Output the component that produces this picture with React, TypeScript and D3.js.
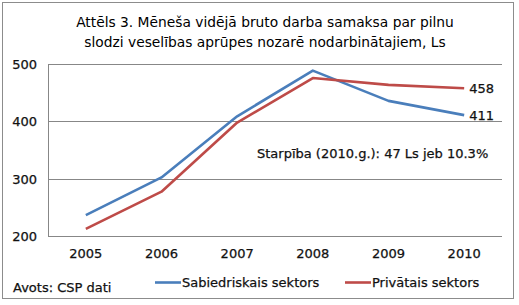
import * as d3 from 'd3'
import React, { useEffect, useRef } from 'react'

const years = ['2005', '2006', '2007', '2008', '2009', '2010']
const publicSector = [236, 302, 409, 489, 436, 411]
const privateSector = [212, 277, 398, 476, 464, 458]
const yTicks = [200, 300, 400, 500]
const seriesNames = ['Sabiedriskais sektors', 'Privātais sektors']
const titleLines = [
  'Attēls 3. Mēneša vidējā bruto darba samaksa par pilnu',
  'slodzi veselības aprūpes nozarē nodarbinātajiem, Ls',
]
const note = 'Starpība (2010.g.): 47 Ls jeb 10.3%'
const source = 'Avots: CSP dati'

const App = () => {
  const chartRef = useRef(null)

  useEffect(() => {
    const width = 519
    const height = 305
    const font = 'DejaVu Sans, Verdana, sans-serif'
    const fs = 13

    const svg = d3.select(chartRef.current)
    svg.selectAll('*').remove()
    svg.attr('width', width).attr('height', height)

    svg.append('rect')
      .attr('x', 2.5).attr('y', 2.5)
      .attr('width', 511).attr('height', 296)
      .attr('fill', '#fff').attr('stroke', '#8c8c8c')

    const title = svg.append('text')
      .attr('text-anchor', 'middle')
      .attr('font-family', 'Tahoma, DejaVu Sans, sans-serif')
      .attr('font-size', 13.8)
      .attr('fill', '#000')
    titleLines.forEach((t, i) => {
      title.append('tspan').attr('x', 265).attr('y', 27 + i * 19.5).text(t)
    })

    const x = d3.scaleBand().domain(years).range([48, 502])
    const y = d3.scaleLinear().domain([200, 500]).range([235.7, 64.3])

    // gridlines
    svg.append('g')
      .selectAll('line')
      .data(yTicks.slice(1))
      .enter()
      .append('line')
      .attr('x1', 48).attr('x2', 502)
      .attr('y1', (d) => Math.round(y(d)) + 0.5)
      .attr('y2', (d) => Math.round(y(d)) + 0.5)
      .attr('stroke', '#878787')

    // axes
    svg.append('line')
      .attr('x1', 48.5).attr('x2', 48.5)
      .attr('y1', Math.round(y(500)) + 0.5).attr('y2', Math.round(y(200)) + 0.5)
      .attr('stroke', '#878787')
    svg.append('line')
      .attr('x1', 48).attr('x2', 502)
      .attr('y1', Math.round(y(200)) + 0.5).attr('y2', Math.round(y(200)) + 0.5)
      .attr('stroke', '#878787')

    const label = (sel: any) =>
      sel.attr('font-family', font)
        .attr('font-size', fs)
        .attr('fill', '#111')
        .attr('stroke', '#111')
        .attr('stroke-width', 0.25)

    svg.append('g')
      .selectAll('text')
      .data(yTicks)
      .enter()
      .append('text')
      .attr('x', 37)
      .attr('y', (d) => y(d) + 5)
      .attr('text-anchor', 'end')
      .call(label)
      .text((d) => d)

    svg.append('g')
      .selectAll('text')
      .data(years)
      .enter()
      .append('text')
      .attr('x', (d) => (x(d) as number) + x.bandwidth() / 2)
      .attr('y', 258)
      .attr('text-anchor', 'middle')
      .call(label)
      .text((d) => d)

    const line = d3.line<number>()
      .x((_, i) => (x(years[i]) as number) + x.bandwidth() / 2)
      .y((d) => y(d))

    const series = [
      { values: publicSector, color: '#4a7ebb' },
      { values: privateSector, color: '#be4b48' },
    ]
    series.forEach((s) => {
      svg.append('path')
        .attr('d', line(s.values))
        .attr('fill', 'none')
        .attr('stroke', s.color)
        .attr('stroke-width', 2.6)
        .attr('stroke-linejoin', 'round')
    })

    // end values
    const lastX = (x('2010') as number) + x.bandwidth() / 2
    ;[privateSector, publicSector].forEach((vals) => {
      const v = vals[vals.length - 1]
      svg.append('text')
        .attr('x', lastX + 5)
        .attr('y', y(v) + 5)
        .call(label)
        .text(v)
    })

    svg.append('text')
      .attr('x', 257).attr('y', 158)
      .call(label)
      .text(note)

    // legend
    const legend = svg.append('g')
    const legendPos = [155, 345]
    series.forEach((s, i) => {
      legend.append('line')
        .attr('x1', legendPos[i]).attr('x2', legendPos[i] + 26)
        .attr('y1', 282.5).attr('y2', 282.5)
        .attr('stroke', s.color).attr('stroke-width', 2.6)
      legend.append('text')
        .attr('x', legendPos[i] + 27).attr('y', 287)
        .call(label)
        .text(seriesNames[i])
    })

    svg.append('text')
      .attr('x', 13).attr('y', 292)
      .call(label)
      .text(source)
  }, [])

  return (
    <div style={{ position: 'absolute', left: 0, top: 0 }}>
      <svg ref={chartRef}></svg>
    </div>
  )
}

export default App
